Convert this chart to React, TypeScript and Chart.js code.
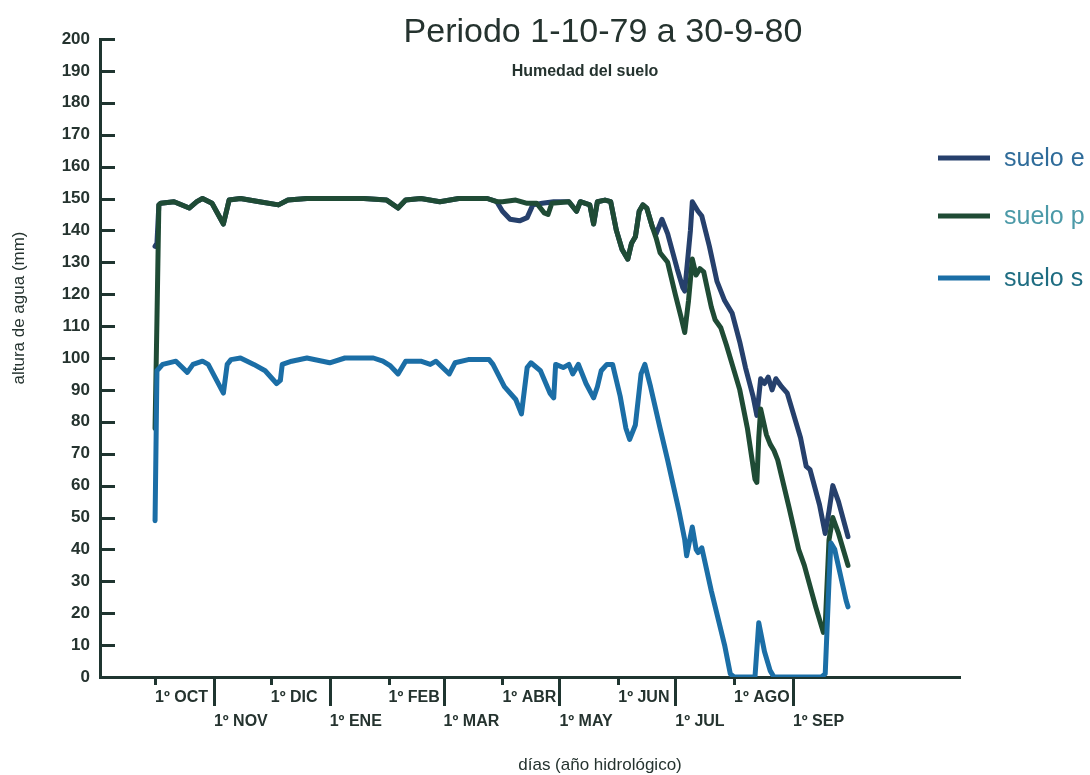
import React, { useEffect, useRef } from 'react';
import { Chart, registerables } from 'chart.js';

Chart.register(...registerables);

// ---- Data (days counted from 1 Oct 1979) ----
const monthTickDays = [0, 31, 61, 92, 123, 152, 183, 213, 244, 274, 305, 336];
const monthTickLabels = ['1º OCT', '1º NOV', '1º DIC', '1º ENE', '1º FEB', '1º MAR', '1º ABR', '1º MAY', '1º JUN', '1º JUL', '1º AGO', '1º SEP'];
const yTickStep = 10;
const seriesNames = ['suelo e', 'suelo p', 'suelo s'];

const sueloEDays = [0, 1, 2, 3, 10, 18, 22, 25, 30, 36, 39, 45, 55, 65, 70, 80, 110, 122, 128, 132, 140, 150, 160, 175, 180, 183, 187, 192, 196, 199, 204, 210, 218, 222, 224, 229, 231, 233, 237, 240, 243, 246, 249, 251, 253, 255, 257, 259, 262, 264, 267, 270, 275, 278, 279, 282, 283, 286, 288, 292, 296, 300, 304, 308, 311, 315, 317, 319, 321, 323, 325, 327, 330, 333, 340, 343, 345, 350, 353, 355, 357, 360, 365];
const sueloEValues = [135, 136, 148, 148.5, 149, 147, 149, 150, 148.5, 142, 149.5, 150, 149, 148, 149.5, 150, 150, 149.5, 147, 149.5, 150, 149, 150, 150, 149, 146, 143.5, 143, 144, 148, 148.5, 149, 149, 146, 149, 148, 142, 149, 149.5, 149, 140, 134, 131, 136, 138, 146, 148, 147, 141, 139, 143.5, 139, 128, 122, 121, 140, 149, 146, 144.5, 135, 124, 118, 114, 105, 97, 88, 82, 93.5, 92, 94, 90, 93.5, 91, 89, 75, 66, 65, 54, 45, 52, 60, 55, 44];

const sueloPDays = [0, 1, 2, 3, 10, 18, 22, 25, 30, 36, 39, 45, 55, 65, 70, 80, 110, 122, 128, 132, 140, 150, 160, 175, 180, 183, 190, 196, 201, 205, 207, 209, 218, 222, 224, 229, 231, 233, 237, 240, 243, 246, 249, 251, 253, 255, 257, 259, 262, 264, 266, 270, 274, 277, 279, 281, 283, 285, 287, 289, 293, 295, 298, 301, 304, 308, 312, 316, 317, 318, 319, 322, 324, 326, 328, 334, 339, 342, 348, 352, 353, 355, 357, 360, 365];
const sueloPValues = [78, 112, 148, 148.5, 149, 147, 149, 150, 148.5, 142, 149.5, 150, 149, 148, 149.5, 150, 150, 149.5, 147, 149.5, 150, 149, 150, 150, 149, 149, 149.5, 148.5, 148.5, 145.5, 145, 148.5, 149, 146, 149, 148, 142, 149, 149.5, 149, 140, 134, 131, 136, 138, 146, 148, 147, 141, 137.5, 133, 130, 120, 113, 108, 118, 131, 126, 128, 127, 116, 112, 109.5, 104, 98, 90, 78, 62, 61, 75, 84, 76, 73, 71, 68, 53, 40, 35, 22, 14, 16, 43, 50, 45, 35];

const sueloSDays = [0, 1, 4, 11, 17, 20, 25, 28, 36, 38, 40, 45, 52, 58, 64, 66, 67, 72, 80, 92, 100, 115, 120, 124, 128, 132, 140, 145, 148, 155, 158, 165, 176, 178, 184, 190, 193, 196, 198, 203, 208, 210, 211, 215, 218, 220, 223, 227, 231, 233, 235, 238, 241, 245, 248, 250, 253, 256, 258, 261, 266, 270, 276, 279, 280, 283, 285, 286, 288, 293, 300, 303, 305, 316, 318, 321, 324, 326, 351, 353, 355, 356, 358, 364, 365];
const sueloSValues = [49, 96, 98, 99, 95.5, 98, 99, 98, 89, 98, 99.5, 100, 98, 96, 92, 93, 98, 99, 100, 98.5, 100, 100, 99, 97.5, 95, 99, 99, 98, 99, 95, 98.5, 99.5, 99.5, 98, 91, 87, 82.5, 97, 98.5, 96, 89, 87.5, 98, 97, 98, 95, 98, 92, 87.5, 91, 96, 98, 98, 88, 78, 74.5, 79, 95, 98, 91, 78, 68, 52, 43, 38, 47, 40, 39, 40.5, 27, 10, 1, 0, 0, 17, 8, 2, 0, 0, 1, 30, 42, 40, 24, 22];

// ---- Styles ----
const FONT = "'Liberation Sans', Arial, sans-serif";
const AXIS = '#1f3530';
const TEXT = '#25332f';
const COLOR_E = '#26406c';
const COLOR_P = '#1f4b35';
const COLOR_S = '#1b6ea6';
const LEGEND_TEXT = ['#2f6c9a', '#4c9aa8', '#1f6d82'];

const toXY = (days: number[], vals: number[]) => days.map((d, i) => ({ x: d, y: vals[i] }));

const decorPlugin = {
  id: 'decor',
  afterDraw(chart: any) {
    const { ctx, chartArea, scales } = chart;
    const xs = scales.x;
    const ys = scales.y;
    ctx.save();
    ctx.strokeStyle = AXIS;
    ctx.lineWidth = 3;
    ctx.lineCap = 'butt';
    // y ticks pointing inward
    ys.ticks.forEach((t: any) => {
      const py = Math.round(ys.getPixelForValue(t.value)) + 0.5;
      ctx.beginPath();
      ctx.moveTo(chartArea.left, py);
      ctx.lineTo(chartArea.left + 15, py);
      ctx.stroke();
    });
    // x ticks: short for first row, long for second row
    xs.ticks.forEach((t: any, i: number) => {
      const px = Math.round(xs.getPixelForValue(t.value)) + 0.5;
      const len = i % 2 === 1 ? 29 : 8;
      ctx.beginPath();
      ctx.moveTo(px, chartArea.bottom);
      ctx.lineTo(px, chartArea.bottom + len);
      ctx.stroke();
    });
    // Title and subtitle
    ctx.fillStyle = TEXT;
    ctx.textAlign = 'center';
    ctx.textBaseline = 'alphabetic';
    ctx.font = `34px ${FONT}`;
    ctx.fillText('Periodo 1-10-79 a 30-9-80', 603, 42);
    ctx.font = `bold 16px ${FONT}`;
    ctx.textBaseline = 'middle';
    ctx.fillText('Humedad del suelo', 585, 72);
    // Axis titles
    ctx.font = `17px ${FONT}`;
    ctx.fillText('días (año hidrológico)', 600, 765);
    ctx.save();
    ctx.translate(19, 308);
    ctx.rotate(-Math.PI / 2);
    ctx.fillText('altura de agua (mm)', 0, 0);
    ctx.restore();
    // Legend
    const legendY = [158, 216, 278];
    chart.data.datasets.forEach((ds: any, i: number) => {
      ctx.strokeStyle = ds.borderColor;
      ctx.lineWidth = 5;
      ctx.beginPath();
      ctx.moveTo(938, legendY[i]);
      ctx.lineTo(990, legendY[i]);
      ctx.stroke();
      ctx.fillStyle = LEGEND_TEXT[i];
      ctx.font = `25px ${FONT}`;
      ctx.textAlign = 'left';
      ctx.textBaseline = 'middle';
      ctx.fillText(ds.label, 1004, legendY[i] + 1);
    });
    ctx.restore();
  },
};

export default function App() {
  const ref = useRef<HTMLCanvasElement>(null);
  useEffect(() => {
    const canvas = ref.current;
    if (!canvas) return;
    const chart = new Chart(canvas, {
      type: 'line',
      data: {
        datasets: [
          { label: seriesNames[0], data: toXY(sueloEDays, sueloEValues), borderColor: COLOR_E, backgroundColor: COLOR_E, borderWidth: 5, order: 3 },
          { label: seriesNames[1], data: toXY(sueloPDays, sueloPValues), borderColor: COLOR_P, backgroundColor: COLOR_P, borderWidth: 5, order: 2 },
          { label: seriesNames[2], data: toXY(sueloSDays, sueloSValues), borderColor: COLOR_S, backgroundColor: COLOR_S, borderWidth: 5, order: 1 },
        ],
      },
      options: {
        responsive: false,
        animation: false,
        devicePixelRatio: 1,
        layout: { padding: { top: 39, right: 130, bottom: 38, left: 0 } },
        elements: {
          point: { radius: 0, hoverRadius: 0 },
          line: { tension: 0, borderJoinStyle: 'round', borderCapStyle: 'round' },
        },
        plugins: {
          legend: { display: false },
          tooltip: { enabled: false },
          title: { display: false },
        },
        scales: {
          x: {
            type: 'linear',
            min: -29,
            max: 424,
            afterBuildTicks: (s: any) => {
              s.ticks = monthTickDays.map((v) => ({ value: v }));
            },
            afterFit: (s: any) => {
              s.height = 60;
            },
            grid: { display: false, drawTicks: false },
            border: { display: true, color: AXIS, width: 3 },
            ticks: {
              autoSkip: false,
              maxRotation: 0,
              minRotation: 0,
              align: 'start',
              padding: 9,
              color: TEXT,
              font: { family: FONT, size: 16, weight: 'bold', lineHeight: 1.5 },
              callback: (_v: any, i: number) => (i % 2 === 0 ? [monthTickLabels[i]] : ['', monthTickLabels[i]]),
            },
          },
          y: {
            min: 0,
            max: 200,
            afterFit: (s: any) => {
              s.width = 100;
            },
            grid: { display: false, drawTicks: false },
            border: { display: true, color: AXIS, width: 3 },
            ticks: {
              stepSize: yTickStep,
              padding: 10,
              color: TEXT,
              font: { family: FONT, size: 17, weight: 'bold' },
            },
          },
        },
      },
      plugins: [decorPlugin],
    } as any);
    return () => chart.destroy();
  }, []);
  return (
    <div style={{ position: 'absolute', left: 0, top: 0, width: 1090, height: 775, background: '#ffffff' }}>
      <canvas ref={ref} width={1090} height={775} />
    </div>
  );
}
